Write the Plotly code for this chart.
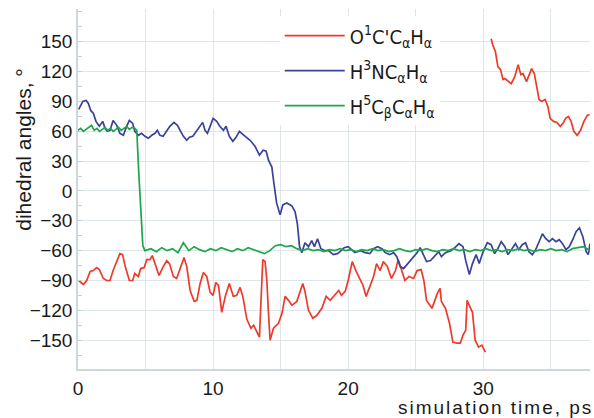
import plotly.graph_objects as go

# ---- data ----
red_t = [0.05, 0.15, 0.4, 0.64, 0.9, 1.14, 1.38, 1.58, 1.88, 2.12, 2.37, 2.6, 2.87, 3.1, 3.3, 3.5, 3.8, 4.05, 4.2, 4.47,
         4.64, 4.9, 5.09, 5.33, 5.5, 5.7, 6.0, 6.27, 6.57, 6.77, 7.06, 7.3, 7.56, 7.85, 8.05, 8.3, 8.6, 8.8, 9.04, 9.28,
         9.53, 9.78, 10.0, 10.2, 10.4, 10.64, 10.9, 11.2, 11.5, 11.75, 12.0, 12.2, 12.5, 12.8, 13.0, 13.2, 13.43, 13.56,
         13.68, 13.85, 13.98, 14.1, 14.22, 14.47, 14.84, 15.1, 15.33, 15.58, 15.83, 16.2, 16.44, 16.64, 16.8, 17.06,
         17.38, 17.68, 18.05, 18.37, 18.67, 18.9, 19.3, 19.5, 19.78, 20.0, 20.3, 20.6, 20.84, 21.1, 21.33, 21.58, 21.88,
         22.1, 22.37, 22.6, 22.9, 23.2, 23.5, 23.7, 23.97, 24.2, 24.5, 24.84, 25.1, 25.4, 25.6, 25.8, 26.2, 26.4, 26.6,
         26.8, 26.9, 27.2, 27.5, 27.75, 28.05, 28.3, 28.5, 28.7, 28.8, 29.0, 29.2, 29.4, 29.65, 29.9, 30.0, 30.15,
         None,
         30.58, 30.7, 30.9, 31.08, 31.28, 31.46, 31.6, 31.8, 32.07, 32.33, 32.58, 32.78, 32.95, 33.2, 33.4, 33.58, 33.78,
         33.95, 34.13, 34.33, 34.58, 34.78, 34.95, 35.2, 35.45, 35.7, 35.9, 36.1, 36.3, 36.5, 36.7, 36.95, 37.2, 37.45,
         37.7, 37.87]
red_v = [-90, -91, -94, -90, -81, -80, -77, -79, -88, -90, -90, -80, -71, -63, -64, -76, -90, -90, -83, -86,
         -78, -77, -69, -69, -65, -73, -85, -77, -70, -73, -86, -88, -78, -67, -76, -100, -111, -110, -93, -82,
         -86, -102, -105, -92, -95, -122, -106, -93, -106, -105, -97, -106, -129, -138, -135, -140, -147, -106,
         -69, -71, -90, -123, -150, -138, -133, -123, -106, -110, -115, -111, -101, -93, -101, -120,
         -128, -125, -118, -106, -110, -106, -100, -105, -101, -90, -71, -81, -88, -95, -106, -96, -86,
         -73, -80, -71, -76, -88, -80, -69, -80, -90, -86, -88, -80, -79, -90, -110, -118, -110, -103,
         -98, -111, -118, -133, -152, -153, -153, -145, -140, -110, -116, -122, -150, -157, -155, -158, -162,
         None,
         153, 147, 140, 125, 122, 112, 113, 111, 108, 115, 127, 117, 118, 110, 118, 123, 118,
         105, 92, 90, 92, 85, 73, 70, 69, 65, 68, 73, 75, 70, 60, 56, 61, 70,
         76, 77]

blue_t = [0.05, 0.15, 0.35, 0.6, 0.77, 0.94, 1.14, 1.33, 1.58, 1.83, 2.0, 2.17, 2.37, 2.6, 2.87, 3.1, 3.36, 3.6, 3.8,
          4.05, 4.2, 4.47, 4.7, 4.96, 5.2, 5.46, 5.7, 5.87, 6.07, 6.3, 6.57, 6.8, 7.1, 7.36, 7.6, 7.8, 8.05, 8.25, 8.5,
          8.74, 9.04, 9.23, 9.4, 9.58, 9.78, 10.0, 10.27, 10.5, 10.76, 10.96, 11.2, 11.46, 11.7, 11.95, 12.2, 12.44,
          12.74, 13.1, 13.43, 13.7, 13.93, 14.1, 14.35, 14.5, 14.7, 14.96, 15.16, 15.46, 15.83, 16.07, 16.24, 16.4,
          16.57, 16.8, 17.06, 17.3, 17.5, 17.73, 17.98, 18.3, 18.54, 18.9, 19.2, 19.4, 19.7, 20.0, 20.27, 20.5, 20.9,
          21.26, 21.6, 21.88, 22.17, 22.5, 22.74, 23.06, 23.36, 23.6, 23.85, 24.1, 24.35, 24.6, 24.84, 25.1, 25.33,
          25.6, 25.8, 26.1, 26.4, 26.7, 26.9, 27.2, 27.6, 27.9, 28.2, 28.5, 28.7, 28.97, 29.2, 29.47, 29.7, 29.96,
          30.3, 30.58, 30.84, 31.08, 31.33, 31.6, 31.83, 32.08, 32.38, 32.63, 32.88, 33.13, 33.38, 33.63, 33.88,
          34.13, 34.38, 34.63, 34.88, 35.12, 35.38, 35.62, 35.87, 36.12, 36.37, 36.62, 36.87, 37.12, 37.37, 37.62,
          37.77, 37.9]
blue_v = [82, 85, 90, 91, 88, 81, 78, 70, 65, 70, 63, 60, 61, 71, 66, 58, 56, 65, 71,
          68, 60, 56, 58, 55, 53, 56, 58, 61, 56, 55, 60, 65, 69, 66, 60, 55, 51, 54, 55,
          60, 65, 69, 61, 58, 65, 73, 70, 65, 61, 65, 55, 50, 54, 60, 57, 54,
          51, 45, 36, 41, 40, 31, 24, 8, -12, -24, -14, -12, -15, -21, -33, -56,
          -62, -52, -56, -50, -56, -48, -58, -60, -60, -64, -63, -61, -57, -56, -59, -62, -60,
          -62, -63, -58, -56, -58, -62, -64, -62, -66, -76, -78, -74, -70, -66, -62, -57,
          -65, -71, -70, -65, -61, -66, -62, -60, -57, -53, -56, -70, -84, -73, -64, -73, -62,
          -52, -54, -63, -58, -51, -56, -64, -59, -53, -59, -54, -52, -61, -64, -59,
          -51, -43, -48, -51, -48, -51, -49, -53, -59, -56, -49, -41, -37, -46, -61,
          -64, -53]

green_t = [0.0, 0.2, 0.4, 0.6, 0.8, 1.0, 1.2, 1.4, 1.6, 1.8, 2.0, 2.2, 2.4, 2.6, 2.8, 3.0, 3.2, 3.4, 3.6, 3.8,
           4.0, 4.2, 4.35, 4.5, 4.65, 4.8, 4.95,
           5.4, 5.8, 6.2, 6.6, 7.0, 7.4, 7.8, 8.2, 8.6, 9.0, 9.4, 9.8, 10.2, 10.6, 11.0, 11.4, 11.8, 12.2, 12.6,
           13.0, 13.4, 13.8, 14.2, 14.6, 15.0, 15.4, 15.8, 16.2, 16.6, 17.0, 17.4, 17.8, 18.2, 18.6, 19.0, 19.4,
           19.8, 20.2, 20.6, 21.0, 21.4, 21.8, 22.2, 22.6, 23.0, 23.4, 23.8, 24.2, 24.6, 25.0, 25.4, 25.8, 26.2,
           26.6, 27.0, 27.4, 27.8, 28.2, 28.6, 29.0, 29.4, 29.8, 30.2, 30.6, 31.0, 31.4, 31.8, 32.2, 32.6, 33.0,
           33.4, 33.8, 34.2, 34.6, 35.0, 35.4, 35.8, 36.2, 36.6, 37.0, 37.4, 37.7, 37.9]
green_v = [61, 63, 60, 62, 64, 66, 61, 63, 60, 62, 64, 61, 63, 60, 62, 64, 61, 63, 65, 62,
           64, 63, 61, 18, -25, -55, -60,
           -58, -61, -57, -60, -58, -62, -52, -60, -56, -59, -61, -58, -60, -57, -59, -61, -58, -60, -57,
           -59, -61, -63, -60, -55, -54, -56, -55, -58, -60, -58, -60, -59, -61, -59, -60, -58,
           -60, -59, -61, -59, -60, -58, -60, -59, -61, -60, -58, -60, -61, -59, -60, -58, -60,
           -61, -59, -60, -58, -60, -59, -61, -59, -60, -58, -60, -59, -61, -59, -60, -58, -60,
           -59, -61, -59, -60, -58, -60, -59, -61, -58, -57, -56, -58, -61]

names = ["O<sup>1</sup>C'C<sub>α</sub>H<sub>α</sub>",
         "H<sup>3</sup>NC<sub>α</sub>H<sub>α</sub>",
         "H<sup>5</sup>C<sub>β</sub>C<sub>α</sub>H<sub>α</sub>"]
colors = ["#ee3a2a", "#3a429a", "#1ea64c"]

y_ticks = [-150, -120, -90, -60, -30, 0, 30, 60, 90, 120, 150]
x_ticks = [0, 10, 20, 30]

fig = go.Figure()
series = [(red_t, red_v), (blue_t, blue_v), (green_t, green_v)]
for i, ((t, v), nm, c) in enumerate(zip(series, names, colors)):
    fig.add_trace(go.Scatter(x=t, y=v, mode="lines", name=nm, legendgroup=str(i),
                             line=dict(color=c, width=1.7), connectgaps=False))

grid = "#dfe6ea"
fig.update_layout(
    width=594, height=418,
    margin=dict(l=78, r=4, t=9, b=49),
    paper_bgcolor="white", plot_bgcolor="white",
    font=dict(family="Liberation Sans, Arial, sans-serif", size=18, color="#1a1a1a"),
    showlegend=True,
    legend=dict(x=0.394, y=0.98, xanchor="left", yanchor="top", bgcolor="white",
                font=dict(size=20, family="Liberation Sans Narrow, DejaVu Sans Condensed, Liberation Sans, sans-serif"),
                tracegroupgap=6, itemwidth=60),
    xaxis=dict(range=[0, 37.9], tickvals=x_ticks, showgrid=True, gridcolor=grid, gridwidth=1,
               minor=dict(dtick=5, tick0=0, showgrid=True, gridcolor=grid),
               showline=True, linecolor="#cdd8de", linewidth=1.5, zeroline=False,
               ticks="", ticklabelstandoff=1, tickfont=dict(size=19)),
    yaxis=dict(range=[-179, 183], tickvals=y_ticks, showgrid=True, gridcolor=grid, gridwidth=1,
               minor=dict(dtick=15, tick0=-165, ticks="inside", ticklen=4, tickcolor="#c5d0d8", showgrid=False),
               showline=True, linecolor="#cdd8de", linewidth=1.5, zeroline=False,
               ticks="", ticklabelstandoff=0, tickfont=dict(size=19)),
    annotations=[
        dict(text="dihedral angles, °", xref="paper", yref="paper", x=-0.108, y=0.611,
             textangle=-90, showarrow=False, xanchor="center", yanchor="middle",
             font=dict(size=21, color="#1a1a1a")),
        dict(text='<span style="letter-spacing:2px">simulation time, ps</span>', xref="paper", yref="paper",
             x=1.01, y=-0.108, xanchor="right", yanchor="middle", showarrow=False,
             font=dict(size=19, color="#1a1a1a")),
    ],
)

fig.write_html("out.html")
